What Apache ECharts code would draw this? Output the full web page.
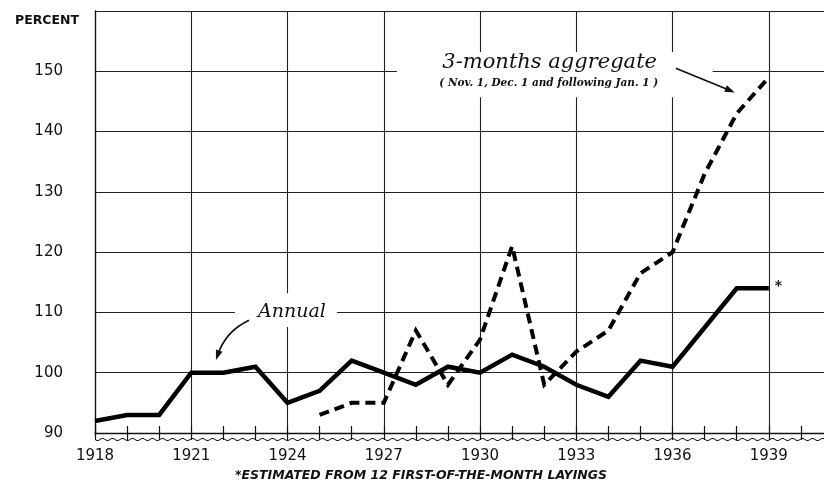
<!DOCTYPE html>
<html><head><meta charset="utf-8">
<script src="https://cdn.jsdelivr.net/npm/echarts@6/dist/echarts.min.js"></script>
<style>html,body{margin:0;padding:0;background:#fff}#c{width:824px;height:483px}</style>
</head><body><div id="c"></div>
<script>
// ---- data ----
const categories = ['1918','1919','1920','1921','1922','1923','1924','1925','1926','1927','1928','1929','1930','1931','1932','1933','1934','1935','1936','1937','1938','1939','1940','1941'];
const annualYears = ['1918','1919','1920','1921','1922','1923','1924','1925','1926','1927','1928','1929','1930','1931','1932','1933','1934','1935','1936','1937','1938','1939'];
const annual = [92,93,93,100,100,101,95,97,102,100,98,101,100,103,101,98,96,102,101,107.5,114,114];
const aggYears = ['1925','1926','1927','1928','1929','1930','1931','1932','1933','1934','1935','1936','1937','1938','1939'];
const aggregate = [93,95,95,107,98,105.5,121,98,103.5,107,116.5,120,133,143,149];
const yMin = 90, yMax = 160, yStep = 10;

const chart = echarts.init(document.getElementById('c'), null, {renderer:'canvas'});
const ink = '#111';
const option = {
  animation:false,
  backgroundColor:'#fff',
  title:{text:'PERCENT', left:10, top:9, textStyle:{fontFamily:'DejaVu Sans', fontSize:12.5, fontWeight:'bold', color:ink}},
  grid:{left:95, top:11, right:-9, bottom:50, containLabel:false, outerBoundsMode:'none'},
  xAxis:[{
    type:'category', data:categories, boundaryGap:false, position:'bottom',
    axisLine:{lineStyle:{color:ink, width:1.3}},
    axisTick:{interval:0, length:7, lineStyle:{color:ink, width:1.2}},
    axisLabel:{interval:2, hideOverlap:false, margin:16, fontFamily:'DejaVu Sans', fontSize:15, color:ink,
      formatter:v => (Number(v)-1918)%3===0 && Number(v) < 1941 ? v : ''},
    splitLine:{show:true, interval:2, lineStyle:{color:'#222', width:1.1}}
  },{
    type:'category', data:categories, boundaryGap:false, position:'bottom',
    axisLine:{show:false},
    axisTick:{inside:true, interval:0, length:7, lineStyle:{color:ink, width:1.2}},
    axisLabel:{show:false}, splitLine:{show:false}
  }],
  yAxis:{
    type:'value', min:yMin, max:yMax, interval:yStep,
    axisLine:{show:true, lineStyle:{color:ink, width:1.3}},
    axisTick:{show:false},
    axisLabel:{formatter:v => v === yMax ? '' : String(v), margin:32, fontFamily:'DejaVu Sans', fontSize:15, color:ink},
    splitLine:{show:true, lineStyle:{color:'#222', width:1.1}}
  },
  series:[{
    name:'Annual', type:'line', xAxisIndex:0,
    data:annualYears.map((y,i)=>[y, annual[i]]),
    symbol:'none', z:5,
    lineStyle:{color:'#000', width:4.5, cap:'butt', join:'miter'},
    endLabel:{show:true, formatter:'*', distance:6, offset:[0,-2], fontFamily:'DejaVu Sans', fontSize:14, fontWeight:'bold', color:ink}
  },{
    name:'3-months aggregate', type:'line', xAxisIndex:0,
    data:aggYears.map((y,i)=>[y, aggregate[i]]),
    symbol:'none', z:5,
    lineStyle:{color:'#000', width:4, type:[10,6], cap:'butt', join:'miter'}
  }]
};
chart.setOption(option);

// ---- annotations anchored in data coordinates ----
const X0 = chart.convertToPixel({xAxisIndex:0}, 0);
const X21 = chart.convertToPixel({xAxisIndex:0}, 21);
function px(yr, v){ return [X0 + (yr-1918)*(X21-X0)/21, chart.convertToPixel({yAxisIndex:0}, v)]; }
function head(tip, from, len, hw){
  const dx = tip[0]-from[0], dy = tip[1]-from[1], d = Math.hypot(dx,dy), ux = dx/d, uy = dy/d;
  const bx = tip[0]-ux*len, by = tip[1]-uy*len;
  return [tip, [bx - uy*hw, by + ux*hw], [bx + uy*hw, by - ux*hw]];
}
function rectFrom(a, b){ return {x:Math.min(a[0],b[0]), y:Math.min(a[1],b[1]), width:Math.abs(b[0]-a[0]), height:Math.abs(b[1]-a[1])}; }

const els = [];
els.push({type:'rect', z:1, shape:rectFrom(px(1927.41,153.2), px(1937.25,145.7)), style:{fill:'#fff'}});
els.push({type:'rect', z:1, shape:rectFrom(px(1922.36,113.2), px(1925.54,107.6)), style:{fill:'#fff'}});
let p = px(1932.17,151.5);
els.push({type:'text', z:3, x:p[0], y:p[1], style:{text:'3-months aggregate', font:'italic 21px "DejaVu Serif"', fill:ink, align:'center', verticalAlign:'middle'}});
p = px(1932.14,148.0);
els.push({type:'text', z:3, x:p[0], y:p[1], style:{text:'( Nov. 1, Dec. 1 and following Jan. 1 )', font:'italic bold 10.5px "DejaVu Serif"', fill:ink, align:'center', verticalAlign:'middle'}});
const a0 = px(1936.1,150.5), a1 = px(1937.94,146.5);
const ah = head(a1, a0, 10, 3.5);
els.push({type:'line', z:3, shape:{x1:a0[0], y1:a0[1], x2:a1[0]-(a1[0]-a0[0])*0.12, y2:a1[1]-(a1[1]-a0[1])*0.12}, style:{stroke:ink, lineWidth:1.8}});
els.push({type:'polygon', z:3, shape:{points:ah}, style:{fill:ink}});
p = px(1924.14,110.07);
els.push({type:'text', z:3, x:p[0], y:p[1], style:{text:'Annual', font:'italic 19px "DejaVu Serif"', fill:ink, align:'center', verticalAlign:'middle'}});
const b0 = px(1922.8,108.7), bc = px(1922.08,106.9), b1 = px(1921.77,102.1);
const bh = head(b1, bc, 10, 3.5);
els.push({type:'bezierCurve', z:3, shape:{x1:b0[0], y1:b0[1], x2:b1[0]+(bc[0]-b1[0])*0.2, y2:b1[1]+(bc[1]-b1[1])*0.2, cpx1:bc[0], cpy1:bc[1]}, style:{stroke:ink, lineWidth:1.8, fill:null}});
els.push({type:'polygon', z:3, shape:{points:bh}, style:{fill:ink}});
const yb = chart.convertToPixel({yAxisIndex:0}, yMin) + 6.5;
const wpts = [];
for (let x = X0; x <= 830; x += 1) wpts.push([x, yb + 1.1*Math.sin((x-X0)/10*2*Math.PI)]);
els.push({type:'polyline', z:3, shape:{points:wpts}, style:{stroke:ink, lineWidth:1, fill:null}});
els.push({type:'text', z:3, x:421, y:476, style:{text:'*ESTIMATED FROM 12 FIRST-OF-THE-MONTH LAYINGS', font:'italic bold 12.5px "DejaVu Sans"', fill:ink, align:'center', verticalAlign:'middle'}});

chart.setOption({graphic:{elements:els}});
</script>
</body></html>
